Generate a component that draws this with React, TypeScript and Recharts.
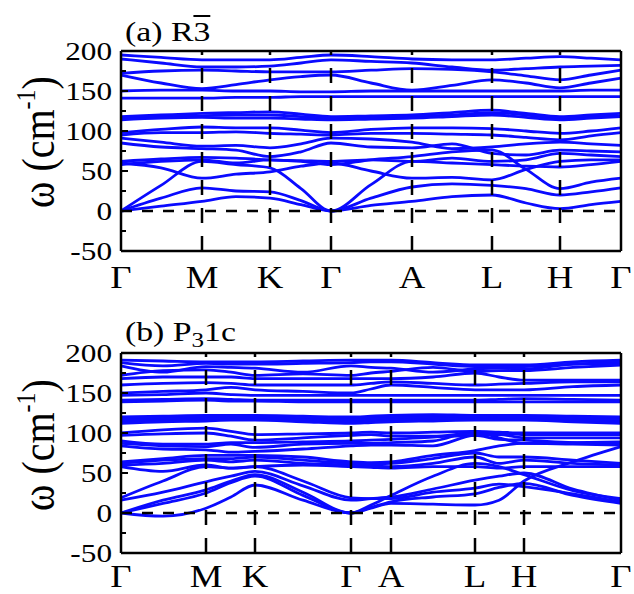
import React from 'react';
import { LineChart, Line, XAxis, YAxis, ReferenceLine } from 'recharts';

// high-symmetry path
const symLabels = ['Γ', 'M', 'K', 'Γ', 'A', 'L', 'H', 'Γ'];
const symPosA = [0, 81, 149, 210, 291, 371, 439, 500];
const symPosB = [0, 85, 134, 230, 270, 354, 403, 500];

// k samples: every high-symmetry point plus the middle of each segment
const kA = [0, 40, 81, 115, 149, 180, 210, 250, 291, 331, 371, 405, 439, 470, 500];
const kB = [0, 42, 85, 110, 134, 182, 230, 250, 270, 312, 354, 378, 403, 452, 500];

const yTicks = [-50, -25, 0, 25, 50, 75, 100, 125, 150, 175, 200];

// (a) R-3 phonon frequencies, cm^-1
const topBandsA = [
  [195, 192, 189, 189, 189, 192, 195, 193, 190, 189, 189, 191, 193, 191, 189],
  [190, 185, 180, 180, 181, 185, 189, 187, 185, 180, 176, 178, 180, 181, 182],
  [172, 175, 176, 175, 174, 174, 174, 176, 178, 177, 174, 169, 164, 170, 176],
  [170, 160, 153, 158, 164, 168, 170, 160, 151, 157, 164, 160, 154, 160, 166],
  [150, 151, 151, 150, 150, 149, 149, 150, 150, 150, 150, 150, 150, 151, 151],
  [141, 141, 141, 142, 142, 143, 143, 143, 143, 143, 143, 143, 143, 143, 143],
];
const midBandsA = [
  [118, 120, 122, 123, 124, 121, 118, 119, 120, 123, 126, 122, 118, 120, 122],
  [116, 118, 119, 120, 120, 118, 116, 117, 118, 120, 123, 120, 116, 118, 119],
  [114, 116, 117, 116, 116, 115, 114, 115, 116, 118, 120, 117, 114, 116, 118],
];
const lowBandsA = [
  [0, 6, 12, 18, 16, 8, 0, 7, 12, 18, 20, 10, 3, 8, 12],
  [0, 16, 29, 25, 24, 13, 0, 16, 30, 34, 32, 28, 20, 24, 29],
  [0, 32, 62, 58, 54, 28, 0, 33, 62, 60, 58, 56, 55, 58, 62],
  [60, 54, 41, 46, 49, 56, 60, 50, 41, 42, 39, 52, 62, 64, 64],
  [58, 62, 64, 60, 64, 62, 58, 64, 68, 74, 76, 52, 28, 36, 41],
  [62, 65, 67, 66, 64, 63, 62, 64, 62, 66, 62, 64, 72, 70, 68],
  [85, 80, 78, 76, 68, 74, 85, 80, 79, 84, 72, 70, 76, 75, 74],
  [91, 86, 81, 82, 79, 84, 91, 90, 86, 78, 80, 84, 86, 84, 82],
  [95, 98, 98, 99, 97, 96, 95, 97, 97, 96, 95, 92, 89, 94, 98],
  [98, 102, 105, 104, 104, 101, 98, 102, 104, 104, 103, 100, 97, 100, 104],
];

// (b) P3_1c phonon frequencies, cm^-1
const topBandsB = [
  [191, 190, 189, 189, 189, 190, 191, 191, 191, 188, 185, 185, 185, 189, 191],
  [188, 184, 187, 186, 186, 187, 188, 189, 189, 186, 183, 183, 183, 186, 189],
  [184, 176, 183, 182, 181, 176, 184, 182, 181, 176, 180, 181, 180, 186, 187],
  [172, 178, 179, 176, 172, 174, 172, 175, 177, 182, 177, 178, 178, 182, 185],
  [168, 170, 170, 170, 168, 168, 168, 168, 168, 170, 175, 170, 166, 166, 166],
  [160, 162, 163, 162, 160, 160, 160, 162, 164, 162, 160, 161, 162, 164, 164],
  [150, 152, 154, 157, 154, 152, 150, 155, 160, 157, 154, 154, 154, 158, 160],
  [147, 148, 150, 148, 147, 147, 147, 147, 147, 147, 147, 147, 147, 147, 147],
  [141, 142, 143, 142, 141, 141, 141, 141, 141, 141, 141, 142, 143, 142, 141],
  [139, 140, 141, 140, 140, 139, 139, 139, 139, 139, 139, 139, 139, 139, 139],
];
const midBandsB = [
  [120, 121, 122, 122, 122, 121, 120, 121, 122, 123, 122, 122, 122, 121, 120],
  [118, 119, 120, 121, 120, 119, 118, 119, 120, 121, 121, 120, 120, 119, 118],
  [116, 117, 118, 119, 118, 117, 116, 117, 118, 119, 120, 119, 119, 117, 116],
  [114, 115, 117, 118, 117, 116, 114, 115, 116, 117, 118, 117, 117, 115, 114],
  [112, 114, 115, 116, 116, 114, 112, 113, 114, 115, 116, 116, 116, 114, 112],
];
const lowBandsB = [
  [0, -4, 6, 20, 35, 16, 0, 6, 12, 11, 10, 16, 40, 64, 83],
  [0, 12, 25, 38, 46, 22, 0, 7, 14, 20, 24, 32, 37, 22, 12],
  [0, 16, 29, 40, 48, 26, 0, 10, 22, 46, 62, 58, 48, 28, 18],
  [16, 26, 39, 46, 52, 34, 16, 18, 20, 30, 41, 46, 50, 30, 16],
  [19, 40, 58, 56, 58, 40, 19, 18, 18, 26, 31, 36, 33, 24, 14],
  [58, 52, 60, 56, 58, 60, 58, 57, 56, 58, 58, 56, 58, 58, 58],
  [60, 62, 66, 64, 66, 62, 60, 59, 58, 62, 70, 62, 66, 62, 60],
  [62, 66, 68, 68, 70, 66, 62, 61, 62, 68, 75, 70, 70, 66, 62],
  [64, 68, 72, 72, 72, 70, 64, 63, 64, 72, 78, 84, 87, 86, 85],
  [84, 80, 79, 76, 77, 80, 84, 85, 85, 84, 97, 92, 91, 88, 87],
  [87, 84, 83, 86, 82, 86, 87, 87, 88, 90, 102, 94, 87, 88, 89],
  [90, 86, 86, 88, 88, 89, 90, 91, 92, 95, 97, 98, 94, 94, 94],
  [97, 99, 100, 96, 91, 94, 97, 98, 96, 96, 100, 100, 98, 98, 98],
  [100, 104, 106, 102, 98, 99, 100, 101, 100, 101, 102, 101, 100, 100, 100],
];

const FONT = "'Liberation Serif', 'Times New Roman', serif";
const BAND_COLOR = '#0a0aff';

const OmegaTick = (props: any) => {
  const { x, y, payload } = props;
  const v = payload.value;
  const major = v % 50 === 0;
  return (
    <g>
      <line x1={x} x2={x + (major ? 7 : 5)} y1={y} y2={y} stroke="#000" strokeWidth={2} />
      {major && (
        <text
          transform={`translate(${x - 9},${y + 9}) scale(1.25,1)`}
          textAnchor="end"
          fontFamily={FONT}
          fontSize={25}
          fill="#000"
        >
          {v}
        </text>
      )}
    </g>
  );
};

const SymTick = (props: any) => {
  const { x, y, payload, pos, dy } = props;
  const i = pos.indexOf(payload.value);
  return (
    <text
      transform={`translate(${x},${y + dy}) scale(1.15,1)`}
      textAnchor="middle"
      fontFamily={FONT}
      fontSize={32}
      fill="#000"
    >
      {symLabels[i]}
    </text>
  );
};

interface PanelProps {
  k: number[];
  bands: number[][];
  symPos: number[];
  height: number;
  marginTop: number;
  axisHeight: number;
  labelDy: number;
}

const BandPanel: React.FC<PanelProps> = ({ k, bands, symPos, height, marginTop, axisHeight, labelDy }) => {
  const rows = k.map((kv, i) => {
    const row: any = { k: kv };
    bands.forEach((b, j) => {
      row['b' + j] = b[i];
    });
    return row;
  });

  return (
    <LineChart width={634} height={height} data={rows} margin={{ top: marginTop, right: 13, bottom: 0, left: 0 }}>
      <XAxis
        dataKey="k"
        type="number"
        domain={[0, 500]}
        ticks={symPos}
        interval={0}
        height={axisHeight}
        axisLine={false}
        tickLine={false}
        tickSize={0}
        tickMargin={0}
        tick={(p: any) => <SymTick {...p} pos={symPos} dy={labelDy} />}
      />
      <YAxis
        type="number"
        domain={[-50, 200]}
        ticks={yTicks}
        interval={0}
        width={121}
        allowDataOverflow
        axisLine={false}
        tickLine={false}
        tickSize={0}
        tickMargin={0}
        tick={(p: any) => <OmegaTick {...p} />}
      />
      {bands.map((_, j) => (
        <Line
          key={j}
          dataKey={'b' + j}
          type="monotone"
          stroke={BAND_COLOR}
          strokeWidth={2.8}
          dot={false}
          activeDot={false}
          isAnimationActive={false}
        />
      ))}
      {symPos.slice(1, -1).map((p) => (
        <ReferenceLine key={p} x={p} stroke="#000" strokeWidth={2.5} strokeDasharray="15 13" />
      ))}
      <ReferenceLine y={0} stroke="#000" strokeWidth={2.5} strokeDasharray="11 10" />
      {/* frame */}
      <ReferenceLine x={0} stroke="#000" strokeWidth={2.5} />
      <ReferenceLine x={500} stroke="#000" strokeWidth={2.5} />
      <ReferenceLine y={-50} stroke="#000" strokeWidth={2.5} />
      <ReferenceLine y={200} stroke="#000" strokeWidth={2.5} />
    </LineChart>
  );
};

const yLabelStyle: React.CSSProperties = {
  position: 'absolute',
  left: 37,
  fontFamily: FONT,
  fontSize: 40,
  lineHeight: 1,
  whiteSpace: 'nowrap',
  transform: 'translate(-50%, -50%) rotate(-90deg) scaleY(1.15)',
};

const titleStyle: React.CSSProperties = {
  position: 'absolute',
  left: 125,
  fontFamily: FONT,
  fontSize: 27,
  lineHeight: 1,
  whiteSpace: 'nowrap',
  transformOrigin: '0 0',
  transform: 'scaleX(1.25)',
};

export default function App() {
  return (
    <div style={{ position: 'absolute', left: 0, top: 0, width: 634, height: 594, background: '#fff', overflow: 'hidden' }}>
      <div style={{ position: 'absolute', left: 0, top: 0 }}>
        <BandPanel
          k={kA}
          bands={[...topBandsA, ...midBandsA, ...lowBandsA]}
          symPos={symPosA}
          height={300}
          marginTop={51}
          axisHeight={49}
          labelDy={37}
        />
      </div>
      <div style={{ position: 'absolute', left: 0, top: 300 }}>
        <BandPanel
          k={kB}
          bands={[...topBandsB, ...midBandsB, ...lowBandsB]}
          symPos={symPosB}
          height={294}
          marginTop={53}
          axisHeight={41}
          labelDy={34}
        />
      </div>

      <div style={{ ...titleStyle, top: 19 }}>
        (a) R<span style={{ textDecoration: 'overline' }}>3</span>
      </div>
      <div style={{ ...titleStyle, top: 319 }}>
        (b) P<sub style={{ fontSize: 20, verticalAlign: -6 }}>3</sub>1c
      </div>

      <div style={{ ...yLabelStyle, top: 142 }}>
        ω (cm<sup style={{ fontSize: 24, verticalAlign: 16 }}>-1</sup>)
      </div>
      <div style={{ ...yLabelStyle, top: 445 }}>
        ω (cm<sup style={{ fontSize: 24, verticalAlign: 16 }}>-1</sup>)
      </div>
    </div>
  );
}
